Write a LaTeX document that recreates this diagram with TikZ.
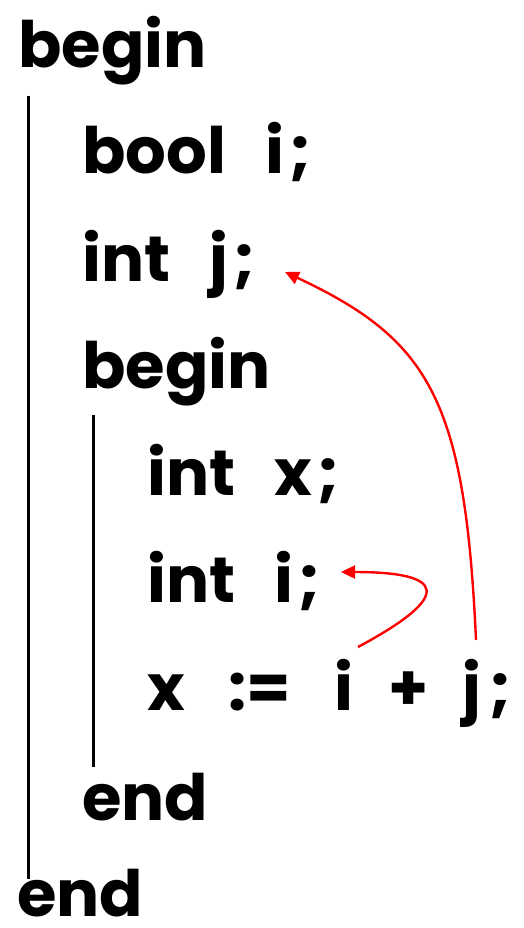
\documentclass[tikz,border=0pt]{standalone}
\usepackage{fontspec}
\setmainfont{Poppins}
\usetikzlibrary{arrows.meta}
\newcommand{\semi}{\kern5pt;}
\newcommand{\codefont}{\fontsize{64}{64}\selectfont\bfseries\spaceskip=0.62em plus 0pt minus 0pt\relax}
\tikzset{
  code/.style={anchor=base west, inner sep=0pt, font=\codefont},
  scopeline/.style={line width=3pt, black},
  ref/.style={red, line width=2.4pt, -{Triangle[length=14pt,width=13pt]}}
}
\begin{document}
\begin{tikzpicture}[x=1pt,y=-1pt]
\useasboundingbox (0,0) rectangle (524,928);
\node[code] (b0) at (18,68) {begin};
\node[code] (l1) at (82,174) {bool i\semi};
\node[code] (l2) at (82,281) {int j\semi};
\node[code] (b1) at (82,388) {begin};
\node[code] (l3) at (147,495) {int x\semi};
\node[code] (l4) at (147,602) {int i\semi};
\node[code] (tx) at (147,710) {x};
\node[code] (tas) at (228,710) {:=};
\node[code] (ti) at (334,710) {i};
\node[code] (tp) at (388,710) {+};
\node[code] (tj) at (462,710) {j\kern9pt;};
\node[code] (e1) at (82,820) {end};
\node[code] (e0) at (17,916) {end};
\coordinate (o1) at (28,96);
\coordinate (o2) at (28,879);
\coordinate (i1) at (93,415);
\coordinate (i2) at (93,767);
\draw[scopeline] (o1) -- (o2);
\draw[scopeline] (i1) -- (i2);
\coordinate (si) at (358,647);
\coordinate (sj) at (476,640);
\coordinate (ti4) at (341,572);
\coordinate (tj2) at (285,272);
\draw[ref] (sj) .. controls (465,400) and (430,340) .. (tj2);
\draw[ref] (si) .. controls (455,595) and (445,572) .. (ti4);
\end{tikzpicture}
\end{document}
